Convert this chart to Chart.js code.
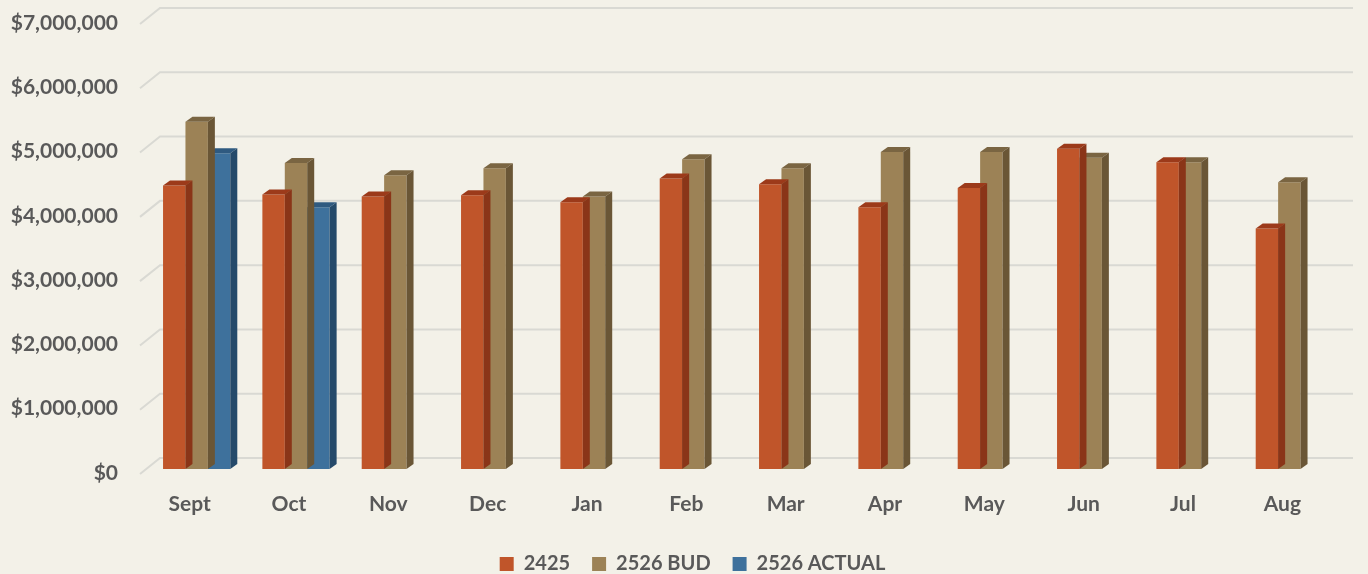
<!DOCTYPE html>
<html>
<head>
<meta charset="utf-8">
<script src="https://cdn.jsdelivr.net/npm/chart.js@4.4.1/dist/chart.umd.min.js"></script>
<style>
  html, body { margin: 0; padding: 0; background: #f3f1e8; }
  #wrap { width: 1368px; height: 574px; }
</style>
</head>
<body>
<div id="wrap"><canvas id="chart" width="1368" height="574"></canvas></div>
<script>
const months = ["Sept", "Oct", "Nov", "Dec", "Jan", "Feb", "Mar", "Apr", "May", "Jun", "Jul", "Aug"];
const sales2425 = [4410000, 4270000, 4240000, 4260000, 4150000, 4520000, 4430000, 4070000, 4370000, 4980000, 4770000, 3740000];
const bud2526 = [5400000, 4760000, 4570000, 4680000, 4240000, 4820000, 4680000, 4930000, 4930000, 4840000, 4770000, 4460000];
const actual2526 = [4910000, 4070000, null, null, null, null, null, null, null, null, null, null];

const TEXT = "#595959";
const DX = 7, DY = 5; // bar depth

// back wall grid with the slanted floor/wall joint + front value labels
const wallGrid = {
  id: "wallGrid",
  beforeDatasetsDraw(chart) {
    const { ctx, chartArea, scales } = chart;
    ctx.save();
    ctx.strokeStyle = "#d9d9d3";
    ctx.lineWidth = 2;
    ctx.fillStyle = TEXT;
    ctx.font = "bold 21px Lato";
    ctx.textAlign = "right";
    ctx.textBaseline = "middle";
    scales.y.ticks.forEach(t => {
      const y = scales.y.getPixelForValue(t.value);
      ctx.beginPath();
      ctx.moveTo(chartArea.left - 7, y + 5);
      ctx.lineTo(chartArea.left + 13, y - 11);
      ctx.lineTo(1353, y - 11);
      ctx.stroke();
      ctx.fillText("$" + t.value.toLocaleString("en-US"), 118, y + 4);
    });
    ctx.restore();
  },
  afterLayout(chart) {
    chart.legend.left += 23;
    chart.legend.right += 23;
    chart.legend.top += 10;
    chart.legend.bottom += 10;
  }
};

// top and right faces for each bar
const bar3d = {
  id: "bar3d",
  afterDatasetDraw(chart, args) {
    const { ctx } = chart;
    const ds = chart.data.datasets[args.index];
    ctx.save();
    args.meta.data.forEach((bar, i) => {
      if (ds.data[i] == null) return;
      const l = bar.x - bar.width / 2, r = bar.x + bar.width / 2;
      const top = bar.y, base = bar.base;
      ctx.fillStyle = ds.topColor;
      ctx.beginPath();
      ctx.moveTo(l, top);
      ctx.lineTo(l + DX, top - DY);
      ctx.lineTo(r + DX, top - DY);
      ctx.lineTo(r, top);
      ctx.closePath();
      ctx.fill();
      ctx.fillStyle = ds.sideColor;
      ctx.beginPath();
      ctx.moveTo(r, top);
      ctx.lineTo(r + DX, top - DY);
      ctx.lineTo(r + DX, base - DY);
      ctx.lineTo(r, base);
      ctx.closePath();
      ctx.fill();
    });
    ctx.restore();
  }
};

new Chart(document.getElementById("chart"), {
  type: "bar",
  data: {
    labels: months,
    datasets: [
      { label: "2425", data: sales2425, backgroundColor: "#c0552a", topColor: "#9c3a1a", sideColor: "#8a3518" },
      { label: "2526 BUD", data: bud2526, backgroundColor: "#9c8256", topColor: "#7a6542", sideColor: "#6a5636" },
      { label: "2526 ACTUAL", data: actual2526, backgroundColor: "#3e719c", topColor: "#2f5a80", sideColor: "#254a6a" }
    ]
  },
  options: {
    responsive: false,
    animation: false,
    layout: { padding: { top: 19, right: 29, left: 0, bottom: 0 } },
    datasets: { bar: { categoryPercentage: 0.677, barPercentage: 1 } },
    scales: {
      x: {
        grid: { display: false },
        border: { display: false },
        afterFit(scale) { scale.height = 53; },
        ticks: {
          color: TEXT,
          font: { family: "Lato", size: 21, weight: "bold" },
          padding: 15,
          labelOffset: -7
        }
      },
      y: {
        min: 0,
        max: 7000000,
        grid: { display: false },
        border: { display: false },
        afterFit(scale) { scale.width = 147; },
        ticks: {
          stepSize: 1000000,
          display: false,
          padding: 0
        }
      }
    },
    plugins: {
      tooltip: { enabled: false },
      legend: {
        position: "bottom",
        labels: {
          color: TEXT,
          boxWidth: 14,
          boxHeight: 14,
          padding: 22,
          font: { family: "Lato", size: 20, weight: "bold" }
        }
      }
    }
  },
  plugins: [wallGrid, bar3d]
});
</script>
</body>
</html>
